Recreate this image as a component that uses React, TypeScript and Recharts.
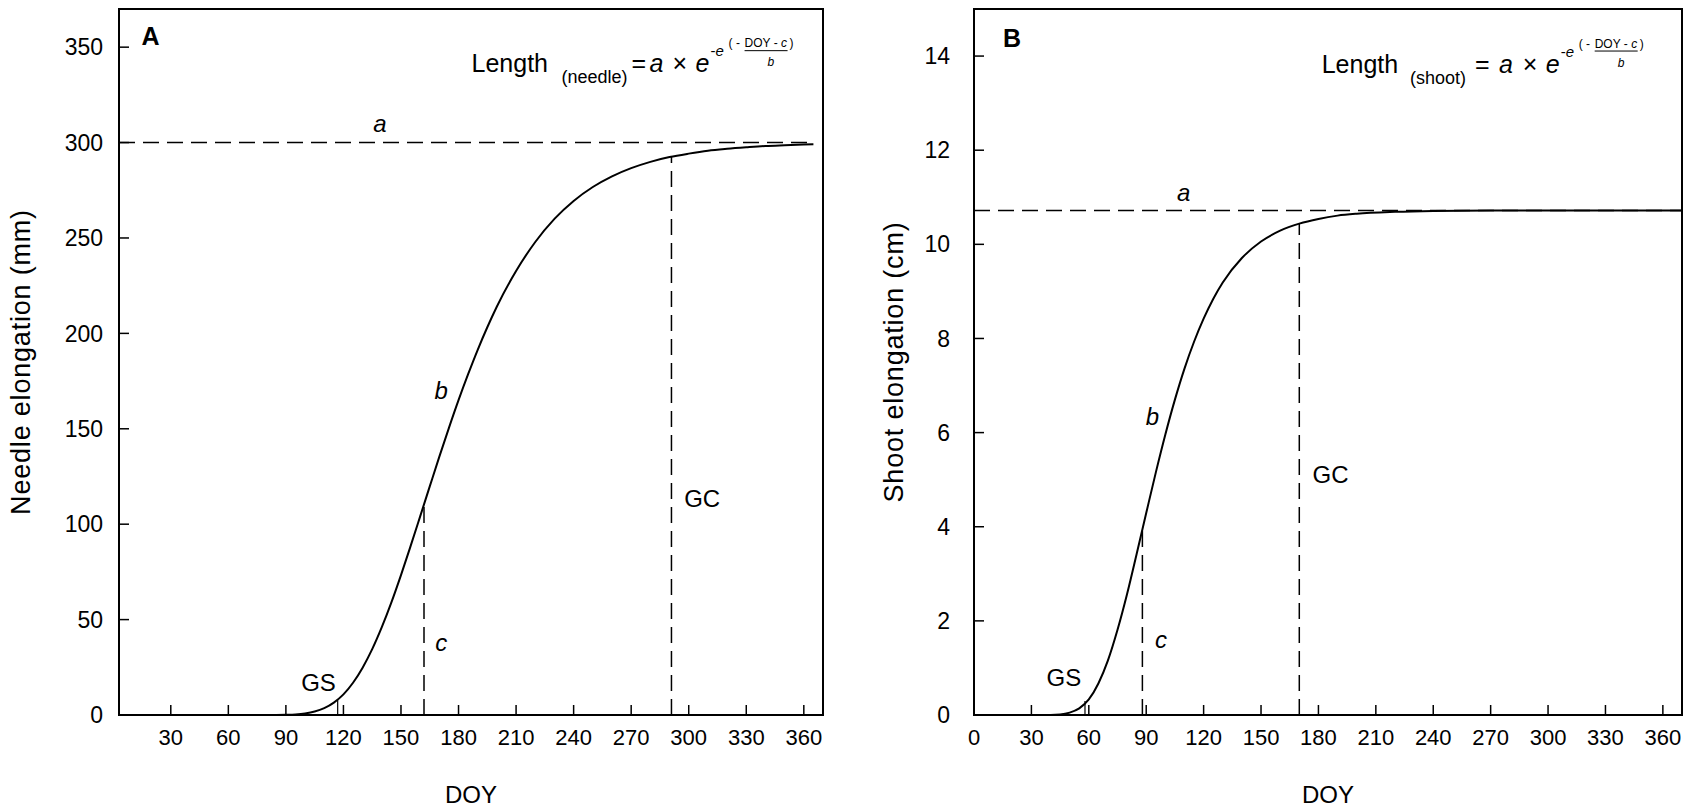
import React from 'react';
import { LineChart, Line, XAxis, YAxis, ReferenceLine, ReferenceDot, ReferenceArea } from 'recharts';

const FONT = '"Liberation Sans", Arial, Helvetica, sans-serif';

// ---------- Panel A (needle) ----------
const doyA = [85, 90, 95, 100, 105, 110, 115, 120, 125, 130, 135, 140, 145, 150, 155, 160, 165, 170, 175, 180, 185, 190, 195, 200, 210, 220, 230, 240, 250, 260, 270, 280, 290, 300, 310, 320, 330, 340, 350, 365];
const needleLen = [0.0, 0.1, 0.3, 0.8, 1.8, 3.6, 6.5, 10.8, 16.9, 24.8, 34.5, 46.0, 59.0, 73.3, 88.5, 104.1, 119.8, 135.4, 150.5, 165.0, 178.6, 191.4, 203.2, 214.1, 232.7, 247.9, 260.0, 269.4, 276.7, 282.3, 286.6, 289.9, 292.4, 294.2, 295.7, 296.7, 297.5, 298.2, 298.6, 299.1];
const xTicksA = [30, 60, 90, 120, 150, 180, 210, 240, 270, 300, 330, 360];
const yTicksA = [0, 50, 100, 150, 200, 250, 300, 350];
const xDomainA = [3, 370];
const yDomainA = [0, 370];
const asymA = 300;
const asymEndA = 365;
const cA = 162;
const cHeightA = 110.4;
const gcA = 291;
const gcHeightA = 292.4;
const gsA = 117;
const gsHeightA = 8.1;

// ---------- Panel B (shoot) ----------
const doyB = [35, 40, 45, 50, 55, 60, 65, 70, 75, 80, 85, 90, 95, 100, 105, 110, 115, 120, 125, 130, 140, 150, 160, 170, 180, 190, 200, 220, 240, 270, 300, 340, 370];
const shootLen = [0.0, 0.0, 0.01, 0.05, 0.14, 0.33, 0.67, 1.16, 1.81, 2.57, 3.42, 4.29, 5.15, 5.96, 6.70, 7.36, 7.93, 8.42, 8.84, 9.19, 9.71, 10.06, 10.29, 10.44, 10.54, 10.61, 10.65, 10.69, 10.71, 10.72, 10.72, 10.72, 10.72];
const xTicksB = [0, 30, 60, 90, 120, 150, 180, 210, 240, 270, 300, 330, 360];
const yTicksB = [0, 2, 4, 6, 8, 10, 12, 14];
const xDomainB = [0, 370];
const yDomainB = [0, 15];
const asymB = 10.72;
const asymEndB = 370;
const cB = 88;
const cHeightB = 3.94;
const gcB = 170;
const gcHeightB = 10.44;
const gsB = 58;
const gsHeightB = 0.3;

const dataA = doyA.map((d, i) => ({ doy: d, len: needleLen[i] }));
const dataB = doyB.map((d, i) => ({ doy: d, len: shootLen[i] }));

const note = (text: string, size: number, italic = false, bold = false) => (p: any) => (
  <text
    x={p.cx}
    y={p.cy}
    textAnchor="middle"
    dominantBaseline="central"
    fontFamily={FONT}
    fontSize={size}
    fontStyle={italic ? 'italic' : 'normal'}
    fontWeight={bold ? 'bold' : 'normal'}
    fill="#000"
  >
    {text}
  </text>
);

const formula = (sub: string, subX: number, eqX: number, aX: number) => (p: any) => {
  const x = p.cx;
  const y = p.cy;
  const t = (dx: number, dy: number, size: number, content: string, italic = false) => (
    <text x={x + dx} y={y + dy} fontSize={size} fontFamily={FONT} fontStyle={italic ? 'italic' : 'normal'} fill="#000">
      {content}
    </text>
  );
  return (
    <g>
      {t(0, 0, 25, 'Length')}
      {t(subX, 11, 18, sub)}
      {t(eqX, 0, 25, '=')}
      {t(aX, 0, 25, 'a', true)}
      {t(201, 0, 25, '×')}
      {t(224, 0, 25, 'e', true)}
      <text x={x + 239} y={y - 16} fontSize={15} fontFamily={FONT} fill="#000">
        -<tspan fontStyle="italic">e</tspan>
      </text>
      {t(257, -25, 12, '( -')}
      <text x={x + 273} y={y - 25} fontSize={12} fontFamily={FONT} fill="#000">
        DOY - <tspan fontStyle="italic">c</tspan>
      </text>
      <line x1={x + 273} x2={x + 316} y1={y - 21.5} y2={y - 21.5} stroke="#000" strokeWidth={1} />
      {t(318, -25, 12, ')')}
      {t(296, -6, 12, 'b', true)}
    </g>
  );
};

const dash = '16 8';

const yTitle = (text: string, cx: number) => (props: any) => {
  const vb = props.viewBox || {};
  const x = (vb.x || 0) + cx;
  const y = (vb.y || 0) + (vb.height || 0) / 2;
  return (
    <text
      x={x}
      y={y}
      transform={`rotate(-90, ${x}, ${y})`}
      textAnchor="middle"
      dominantBaseline="central"
      fontFamily={FONT}
      fontSize={27}
      letterSpacing={0.8}
      fill="#000"
    >
      {text}
    </text>
  );
};

const xTitle = (text: string) => (props: any) => {
  const vb = props.viewBox || {};
  const x = (vb.x || 0) + (vb.width || 0) / 2;
  const y = (vb.y || 0) + 88;
  return (
    <text x={x} y={y} textAnchor="middle" fontFamily={FONT} fontSize={24} fill="#000">
      {text}
    </text>
  );
};

type PanelProps = {
  data: any[];
  xDomain: number[];
  yDomain: number[];
  xTicks: number[];
  yTicks: number[];
  yLabel: string;
  yAxisWidth: number;
  yTitleX: number;
  yTickMargin: number;
  width: number;
  marginRight: number;
  asym: number;
  asymEnd: number;
  c: number;
  cH: number;
  gc: number;
  gcH: number;
  gs: number;
  gsH: number;
  notes: { x: number; y: number; text: string; size: number; italic?: boolean; bold?: boolean }[];
  formulaAt: { x: number; y: number };
  formulaShape: (p: any) => any;
};

const Panel = (p: PanelProps) => (
  <LineChart width={p.width} height={807} data={p.data} margin={{ top: 9, right: p.marginRight, left: 0, bottom: 0 }}>
    <XAxis
      dataKey="doy"
      type="number"
      domain={p.xDomain}
      ticks={p.xTicks}
      interval={0}
      allowDataOverflow
      tickSize={-10}
      tickMargin={24}
      height={92}
      tick={{ fontSize: 22, fill: '#000', fontFamily: FONT }}
      axisLine={{ stroke: '#000', strokeWidth: 2 }}
      tickLine={{ stroke: '#000', strokeWidth: 1.5 }}
      label={{ content: xTitle('DOY') }}
    />
    <YAxis
      type="number"
      domain={p.yDomain}
      ticks={p.yTicks}
      interval={0}
      allowDataOverflow
      tickSize={-10}
      tickMargin={p.yTickMargin}
      width={p.yAxisWidth}
      tick={{ fontSize: 23, fill: '#000', fontFamily: FONT }}
      axisLine={{ stroke: '#000', strokeWidth: 2 }}
      tickLine={{ stroke: '#000', strokeWidth: 1.5 }}
      label={{ content: yTitle(p.yLabel, p.yTitleX) }}
    />
    <ReferenceArea
      x1={p.xDomain[0]}
      x2={p.xDomain[1]}
      y1={p.yDomain[0]}
      y2={p.yDomain[1]}
      fill="none"
      fillOpacity={0}
      stroke="#000"
      strokeWidth={2}
      ifOverflow="visible"
    />
    <ReferenceLine
      segment={[{ x: p.xDomain[0], y: p.asym }, { x: p.asymEnd, y: p.asym }]}
      stroke="#000"
      strokeWidth={1.5}
      strokeDasharray={dash}
    />
    <ReferenceLine
      segment={[{ x: p.c, y: 0 }, { x: p.c, y: p.cH }]}
      stroke="#000"
      strokeWidth={1.5}
      strokeDasharray={dash}
    />
    <ReferenceLine
      segment={[{ x: p.gc, y: 0 }, { x: p.gc, y: p.gcH }]}
      stroke="#000"
      strokeWidth={1.5}
      strokeDasharray={dash}
    />
    <ReferenceLine segment={[{ x: p.gs, y: 0 }, { x: p.gs, y: p.gsH }]} stroke="#000" strokeWidth={1.2} />
    <Line type="monotone" dataKey="len" stroke="#000" strokeWidth={2} dot={false} isAnimationActive={false} />
    {p.notes.map((n, i) => (
      <ReferenceDot key={i} x={n.x} y={n.y} r={0} ifOverflow="visible" shape={note(n.text, n.size, n.italic, n.bold)} />
    ))}
    <ReferenceDot x={p.formulaAt.x} y={p.formulaAt.y} r={0} ifOverflow="visible" shape={p.formulaShape} />
  </LineChart>
);

const notesA = [
  { x: 19.4, y: 355.8, text: 'A', size: 25, bold: true },
  { x: 139, y: 310, text: 'a', size: 24, italic: true },
  { x: 171, y: 170, text: 'b', size: 24, italic: true },
  { x: 171, y: 38, text: 'c', size: 24, italic: true },
  { x: 107, y: 17, text: 'GS', size: 24 },
  { x: 307, y: 113.5, text: 'GC', size: 24 },
];

const notesB = [
  { x: 19.9, y: 14.38, text: 'B', size: 25, bold: true },
  { x: 109.6, y: 11.11, text: 'a', size: 24, italic: true },
  { x: 93.2, y: 6.34, text: 'b', size: 24, italic: true },
  { x: 97.7, y: 1.6, text: 'c', size: 24, italic: true },
  { x: 47, y: 0.79, text: 'GS', size: 24 },
  { x: 186.3, y: 5.1, text: 'GC', size: 24 },
];

export default function App() {
  return (
    <div style={{ position: 'absolute', left: 0, top: 0, width: 1692, height: 807, background: '#fff', fontFamily: FONT }}>
      <div style={{ position: 'absolute', left: 0, top: 0 }}>
        <Panel
          data={dataA}
          xDomain={xDomainA}
          yDomain={yDomainA}
          xTicks={xTicksA}
          yTicks={yTicksA}
          yLabel="Needle elongation (mm)"
          yAxisWidth={119}
          yTitleX={21}
          yTickMargin={26}
          width={840}
          marginRight={17}
          asym={asymA}
          asymEnd={asymEndA}
          c={cA}
          cH={cHeightA}
          gc={gcA}
          gcH={gcHeightA}
          gs={gsA}
          gsH={gsHeightA}
          notes={notesA}
          formulaAt={{ x: 186.8, y: 336.9 }}
          formulaShape={formula('(needle)', 90, 160, 178)}
        />
      </div>
      <div style={{ position: 'absolute', left: 846, top: 0 }}>
        <Panel
          data={dataB}
          xDomain={xDomainB}
          yDomain={yDomainB}
          xTicks={xTicksB}
          yTicks={yTicksB}
          yLabel="Shoot elongation (cm)"
          yAxisWidth={128}
          yTitleX={48}
          yTickMargin={34}
          width={846}
          marginRight={10}
          asym={asymB}
          asymEnd={asymEndB}
          c={cB}
          cH={cHeightB}
          gc={gcB}
          gcH={gcHeightB}
          gs={gsB}
          gsH={gsHeightB}
          notes={notesB}
          formulaAt={{ x: 181.7, y: 13.65 }}
          formulaShape={formula('(shoot)', 88.3, 153.3, 177.3)}
        />
      </div>
    </div>
  );
}
